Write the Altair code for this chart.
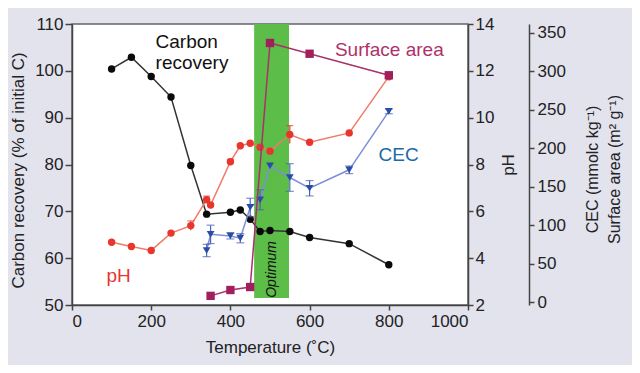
import altair as alt
import pandas as pd

# ---- data ----
temp_carbon = [100, 150, 200, 250, 300, 340, 400, 425, 450, 475, 500, 550, 600, 700, 800]
carbon = [100.4, 102.9, 98.8, 94.4, 79.8, 69.4, 69.8, 70.3, 68.3, 65.7, 65.9, 65.7, 64.4, 63.1, 58.6]
carbon_err = [0, 0, 0, 0, 0, 0, 0, 0, 0, 0, 0, 0, 0, 0, 0.7]

temp_ph = [100, 150, 200, 250, 300, 340, 350, 400, 425, 450, 475, 500, 550, 600, 700, 800]
ph = [4.68, 4.5, 4.33, 5.07, 5.39, 6.5, 6.27, 8.12, 8.8, 8.91, 8.74, 8.57, 9.28, 8.95, 9.35, 11.75]
ph_err = [0, 0, 0, 0, 0.2, 0.15, 0, 0.1, 0, 0, 0, 0, 0.38, 0, 0, 0]

temp_cec = [340, 350, 400, 425, 450, 475, 500, 550, 600, 700, 800]
cec = [67, 88, 86, 83, 123, 133, 177, 162, 148, 172, 248]
cec_err = [8, 12, 4, 6, 12, 13, 0, 18, 10, 5, 3]

temp_sa = [350, 400, 450, 500, 600, 800]
surface_area = [8, 15.6, 19.5, 337, 323, 295]

optimum_range = [460, 548]
optimum_carbon_span = [51.5, 110]

x_ticks = [0, 200, 400, 600, 800, 1000]
carbon_ticks = [50, 60, 70, 80, 90, 100, 110]
ph_ticks = [2, 4, 6, 8, 10, 12, 14]
cec_ticks = [0, 50, 100, 150, 200, 250, 300, 350]

FONT = "Liberation Sans"
W, H = 396, 281

df_c = pd.DataFrame({"t": temp_carbon, "v": carbon, "lo": [a - b for a, b in zip(carbon, carbon_err)],
                     "hi": [a + b for a, b in zip(carbon, carbon_err)]})
df_p = pd.DataFrame({"t": temp_ph, "v": ph, "lo": [a - b for a, b in zip(ph, ph_err)],
                     "hi": [a + b for a, b in zip(ph, ph_err)]})
df_cec = pd.DataFrame({"t": temp_cec, "v": cec, "lo": [a - b for a, b in zip(cec, cec_err)],
                       "hi": [a + b for a, b in zip(cec, cec_err)]})
df_sa = pd.DataFrame({"t": temp_sa, "v": surface_area})
df_band = pd.DataFrame({"t": [optimum_range[0]], "t2": [optimum_range[1]],
                        "v": [optimum_carbon_span[0]], "v2": [optimum_carbon_span[1]]})

xscale = alt.Scale(domain=[0, 1000], nice=False)
x_axis = alt.Axis(values=x_ticks, title="Temperature (˚C)", grid=False, tickSize=5,
                  labelPadding=3, titlePadding=10, format="d")


def X(field="t"):
    return alt.X(f"{field}:Q", scale=xscale, axis=x_axis)


# ---------- carbon layer (left axis) ----------
cscale = alt.Scale(domain=[50, 110], nice=False, zero=False)
c_axis = alt.Axis(values=carbon_ticks, title="Carbon recovery (% of initial C)", grid=False,
                  tickSize=7, labelPadding=2, titlePadding=7, orient="left", titleY=146)


def YC(field="v"):
    return alt.Y(f"{field}:Q", scale=cscale, axis=c_axis)


band = alt.Chart(df_band).mark_rect(color="#5cbd48").encode(x=X(), x2="t2:Q", y=YC(), y2="v2:Q")
c_line = alt.Chart(df_c).mark_line(color="#333333", strokeWidth=1.5).encode(x=X(), y=YC())
c_err = alt.Chart(df_c[df_c.hi > df_c.lo]).mark_rule(color="#111", strokeWidth=1.2).encode(
    x=X(), y=YC("lo"), y2="hi:Q")
c_pts = alt.Chart(df_c).mark_circle(color="#0a0a0a", size=55, opacity=1).encode(x=X(), y=YC())
c_lab = alt.Chart(pd.DataFrame({"t": [211], "v": [106.1], "s": ["Carbon\nrecovery"]})).mark_text(
    align="left", baseline="middle", fontSize=19, font=FONT, color="#111", lineBreak="\n",
    lineHeight=21).encode(x=X(), y=YC(), text="s:N")
opt_lab = alt.Chart(pd.DataFrame({"t": [506], "v": [57.6], "s": ["Optimum"]})).mark_text(
    angle=270, align="center", baseline="middle", fontSize=14, font=FONT, fontStyle="italic",
    color="#111").encode(x=X(), y=YC(), text="s:N")
layer_c = alt.layer(band, c_line, c_err, c_pts, c_lab, opt_lab)

# ---------- pH layer (first right axis) ----------
pscale = alt.Scale(domain=[2, 14], nice=False, zero=False)
p_axis = alt.Axis(values=ph_ticks, title="pH", orient="right", grid=False, tickSize=5,
                  labelPadding=2, titleAngle=270, titleBaseline="top", titlePadding=7)


def YP(field="v"):
    return alt.Y(f"{field}:Q", scale=pscale, axis=p_axis)


dpe = df_p[df_p.hi > df_p.lo]
p_line = alt.Chart(df_p).mark_line(color="#f27a68", strokeWidth=1.5).encode(x=X(), y=YP())
p_err = alt.Chart(dpe).mark_rule(color="#e8352d", strokeWidth=1.2).encode(
    x=X(), y=YP("lo"), y2="hi:Q")
p_cap = alt.Chart(dpe).mark_tick(color="#e8352d", size=7, thickness=1.2,
                                 orient="horizontal").encode(x=X(), y=YP("hi"))
p_pts = alt.Chart(df_p).mark_circle(color="#e8352d", size=55, opacity=1).encode(x=X(), y=YP())
p_lab = alt.Chart(pd.DataFrame({"t": [87], "v": [3.22], "s": ["pH"]})).mark_text(
    align="left", baseline="middle", fontSize=19, font=FONT, color="#e8352d").encode(
    x=X(), y=YP(), text="s:N")
layer_p = alt.layer(p_line, p_err, p_cap, p_pts, p_lab)

# ---------- CEC / surface area layer (second right axis) ----------
sscale = alt.Scale(domain=[-3.9, 361.7], nice=False, zero=False)
s_axis = alt.Axis(values=cec_ticks, title=["CEC (mmolc kg⁻¹)", "Surface area (m² g⁻¹)"],
                  orient="right", offset=61, grid=False, tickSize=5, labelPadding=3,
                  titleAngle=270, titleBaseline="top", titleAlign="center",
                  titleX=55, titleY=145, titleLineHeight=22, titleFontSize=16)


def YS(field="v"):
    return alt.Y(f"{field}:Q", scale=sscale, axis=s_axis)


cec_errd = df_cec[df_cec.hi > df_cec.lo]
cec_line = alt.Chart(df_cec).mark_line(color="#7f8fd6", strokeWidth=1.5).encode(x=X(), y=YS())
cec_err = alt.Chart(cec_errd).mark_rule(color="#4a64b8", strokeWidth=1.2).encode(
    x=X(), y=YS("lo"), y2="hi:Q")
cec_cap_hi = alt.Chart(cec_errd).mark_tick(color="#4a64b8", size=8, thickness=1.2,
                                           orient="horizontal").encode(x=X(), y=YS("hi"))
cec_cap_lo = alt.Chart(cec_errd).mark_tick(color="#4a64b8", size=8, thickness=1.2,
                                           orient="horizontal").encode(x=X(), y=YS("lo"))
cec_pts = alt.Chart(df_cec).mark_point(shape="triangle-down", filled=True, color="#2a4ca8",
                                       size=60, opacity=1).encode(x=X(), y=YS())
sa_line = alt.Chart(df_sa).mark_line(color="#a8326a", strokeWidth=1.5).encode(x=X(), y=YS())
sa_pts = alt.Chart(df_sa).mark_square(color="#a01f5c", size=70, opacity=1).encode(x=X(), y=YS())
sa_lab = alt.Chart(pd.DataFrame({"t": [664], "v": [328], "s": ["Surface area"]})).mark_text(
    align="left", baseline="middle", fontSize=19, font=FONT, color="#b0306a").encode(
    x=X(), y=YS(), text="s:N")
cec_lab = alt.Chart(pd.DataFrame({"t": [774], "v": [191], "s": ["CEC"]})).mark_text(
    align="left", baseline="middle", fontSize=19, font=FONT, color="#1a6aa8").encode(
    x=X(), y=YS(), text="s:N")
layer_s = alt.layer(cec_line, cec_err, cec_cap_hi, cec_cap_lo, cec_pts, sa_line, sa_pts,
                    sa_lab, cec_lab)

chart = alt.layer(layer_c, layer_p, layer_s).resolve_scale(y="independent").properties(
    width=W, height=H,
    autosize=alt.AutoSizeParams(type="none"),
    padding={"left": 64, "top": 16, "right": 164, "bottom": 60},
    background="#e3e3ee",
).configure_view(
    fill="white", stroke="#666666", strokeWidth=1.5
).configure_axis(
    labelFont=FONT, titleFont=FONT, labelFontSize=17, titleFontSize=17,
    titleFontWeight="normal", labelColor="#222", titleColor="#222",
    domainColor="#444", domainWidth=1.5, tickColor="#444", tickWidth=1.5,
)

chart.save("out.html", embed_options={"renderer": "svg", "actions": False})
